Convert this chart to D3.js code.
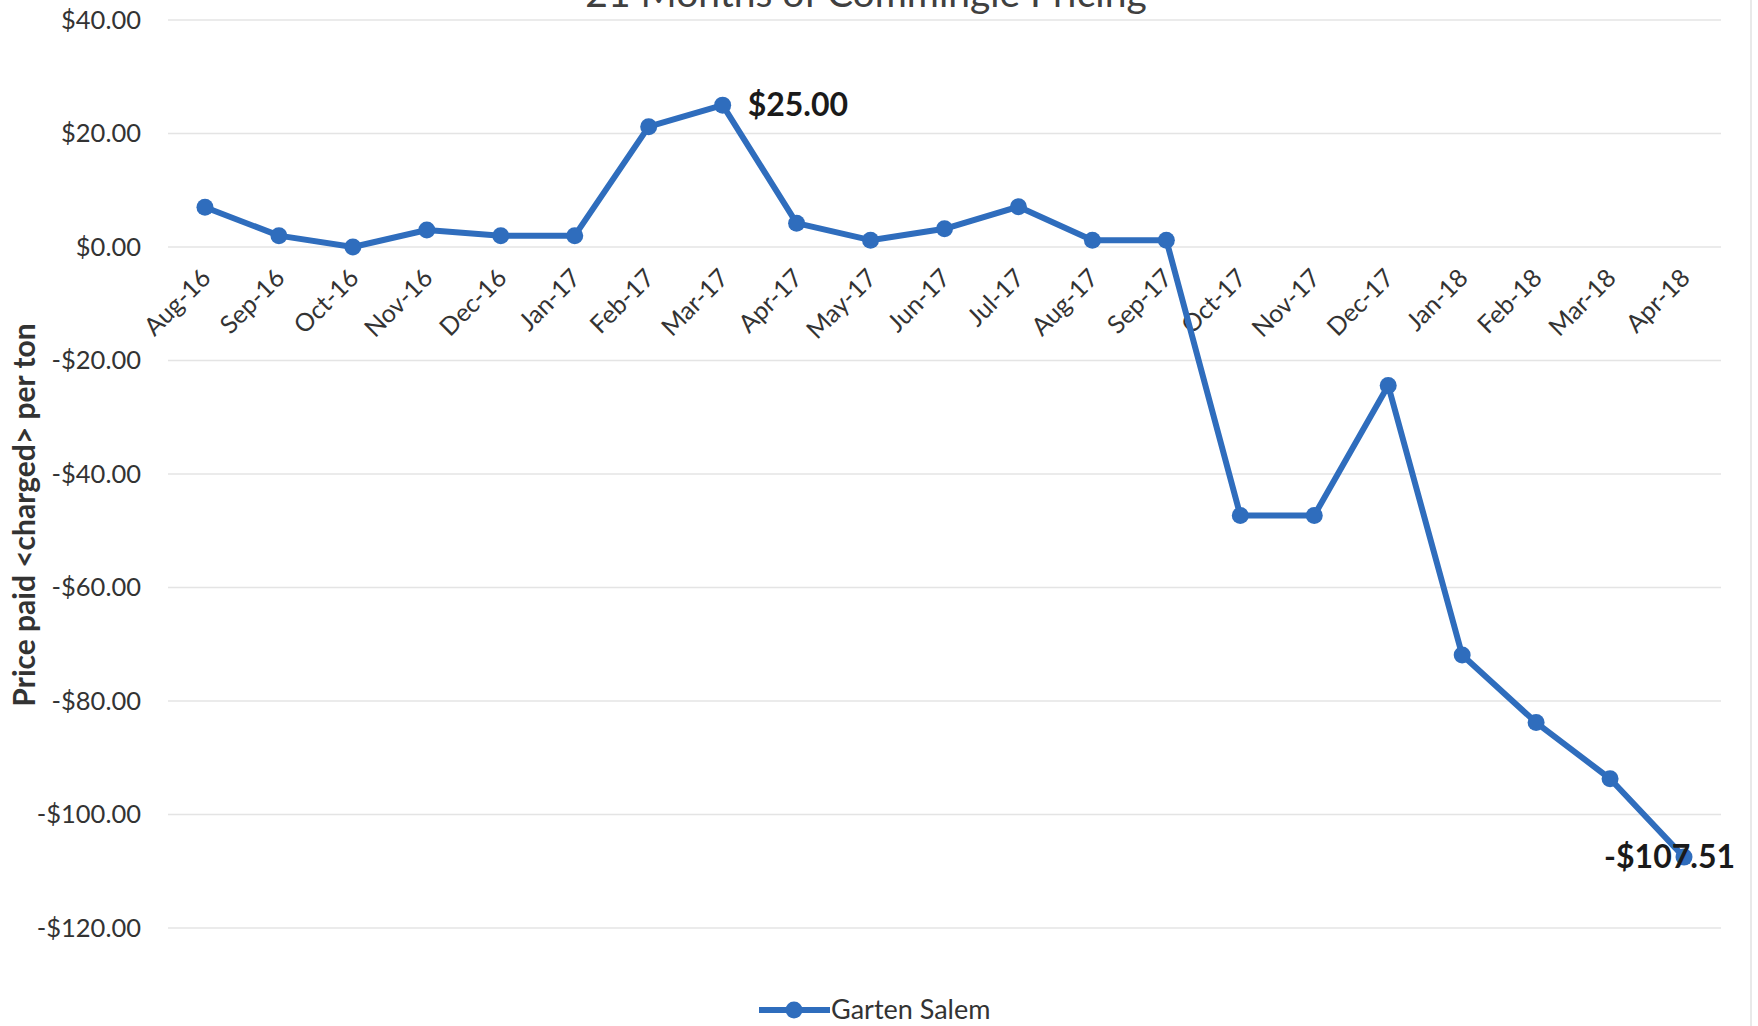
<!DOCTYPE html>
<html>
<head>
<meta charset="utf-8">
<script src="https://cdn.jsdelivr.net/npm/d3@7"></script>
<style>
  body { margin: 0; background: #fff; }
  svg { display: block; font-family: Lato, "Open Sans", sans-serif; }
</style>
</head>
<body>
<div id="chart"></div>
<script>
// ============ Data ============
const months = ['Aug-16', 'Sep-16', 'Oct-16', 'Nov-16', 'Dec-16', 'Jan-17', 'Feb-17', 'Mar-17',
  'Apr-17', 'May-17', 'Jun-17', 'Jul-17', 'Aug-17', 'Sep-17', 'Oct-17', 'Nov-17', 'Dec-17',
  'Jan-18', 'Feb-18', 'Mar-18', 'Apr-18'];
const prices = [7, 2, 0, 3, 2, 2, 21.2, 25, 4.2, 1.2, 3.2, 7.1, 1.2, 1.2,
  -47.3, -47.3, -24.4, -71.9, -83.8, -93.7, -107.51];
const yTicks = [40, 20, 0, -20, -40, -60, -80, -100, -120];
const seriesName = 'Garten Salem';
const chartTitle = '21 Months of Commingle Pricing';
const yTitle = 'Price paid <charged> per ton';
const labelled = ['Mar-17', 'Apr-18'];

const W = 1758, H = 1026;
const plotL = 168, plotR = 1721, plotT = 20, plotB = 928;
const blue = '#2f6dbd';

const svg = d3.select('#chart').append('svg')
  .attr('width', W).attr('height', H)
  .attr('viewBox', `0 0 ${W} ${H}`);

const x = d3.scalePoint().domain(months).range([plotL, plotR]).padding(0.5);
const y = d3.scaleLinear().domain([-120, 40]).range([plotB, plotT]);

// chart frame edge on the right
svg.append('line')
  .attr('x1', 1751).attr('x2', 1751).attr('y1', 0).attr('y2', H)
  .attr('stroke', '#e2e2e2').attr('stroke-width', 1.5);

// title (mostly cut off at top of the crop)
svg.append('text')
  .attr('x', 866).attr('y', 7)
  .attr('text-anchor', 'middle')
  .attr('font-size', 39).attr('fill', '#404040')
  .text(chartTitle);

// ── Gridlines ──
svg.append('g').selectAll('line')
  .data(yTicks).enter().append('line')
  .attr('x1', plotL).attr('x2', plotR)
  .attr('y1', d => y(d)).attr('y2', d => y(d))
  .attr('stroke', '#e4e4e4').attr('stroke-width', 1.5);

// ── Y axis labels ──
const fmt = v => (v < 0 ? '-$' : '$') + Math.abs(v).toFixed(2);
const yAxis = svg.append('g')
  .attr('transform', `translate(${plotL - 24},0)`)
  .call(d3.axisLeft(y).tickValues(yTicks).tickFormat(fmt).tickSize(0));
yAxis.select('.domain').remove();
yAxis.selectAll('text')
  .attr('font-family', 'Lato, "Open Sans", sans-serif')
  .attr('font-size', 25.5).attr('fill', '#333').attr('dx', 0);

// y title
svg.append('text')
  .attr('transform', `translate(35,515) rotate(-90)`)
  .attr('text-anchor', 'middle')
  .attr('font-size', 30).attr('font-weight', 700).attr('fill', '#333')
  .text(yTitle);

// ── X labels (at the zero line) ──
svg.append('g').selectAll('text')
  .data(months).enter().append('text')
  .attr('transform', d => `translate(${x(d) - 5},${y(0) + 20}) rotate(-45)`)
  .attr('text-anchor', 'end')
  .attr('dy', '0.7em')
  .attr('font-size', 25).attr('fill', '#333')
  .text(d => d);

// ── Line + markers ──
const pts = months.map((m, i) => ({ m, v: prices[i] }));
svg.append('path')
  .datum(pts)
  .attr('fill', 'none')
  .attr('stroke', blue).attr('stroke-width', 6)
  .attr('stroke-linejoin', 'round')
  .attr('d', d3.line().x(d => x(d.m)).y(d => y(d.v)));

svg.append('g').selectAll('circle')
  .data(pts).enter().append('circle')
  .attr('cx', d => x(d.m)).attr('cy', d => y(d.v))
  .attr('r', 8.5).attr('fill', blue);

// data labels
svg.append('g').selectAll('text')
  .data(pts.filter(d => labelled.includes(d.m))).enter().append('text')
  .attr('x', d => d.v > 0 ? x(d.m) + 25 : x(d.m) + 51)
  .attr('y', d => y(d.v) + 11)
  .attr('text-anchor', d => d.v > 0 ? 'start' : 'end')
  .attr('font-size', 32).attr('font-weight', 700).attr('fill', '#1a1a1a')
  .text(d => fmt(d.v));

// ── Legend ──
const lg = svg.append('g').attr('transform', 'translate(759,1010)');
lg.append('line').attr('x1', 0).attr('x2', 71).attr('y1', 0).attr('y2', 0)
  .attr('stroke', blue).attr('stroke-width', 6);
lg.append('circle').attr('cx', 35).attr('cy', 0).attr('r', 8.5).attr('fill', blue);
lg.append('text').attr('x', 72).attr('y', 9)
  .attr('font-size', 27).attr('fill', '#333')
  .text(seriesName);
</script>
</body>
</html>
